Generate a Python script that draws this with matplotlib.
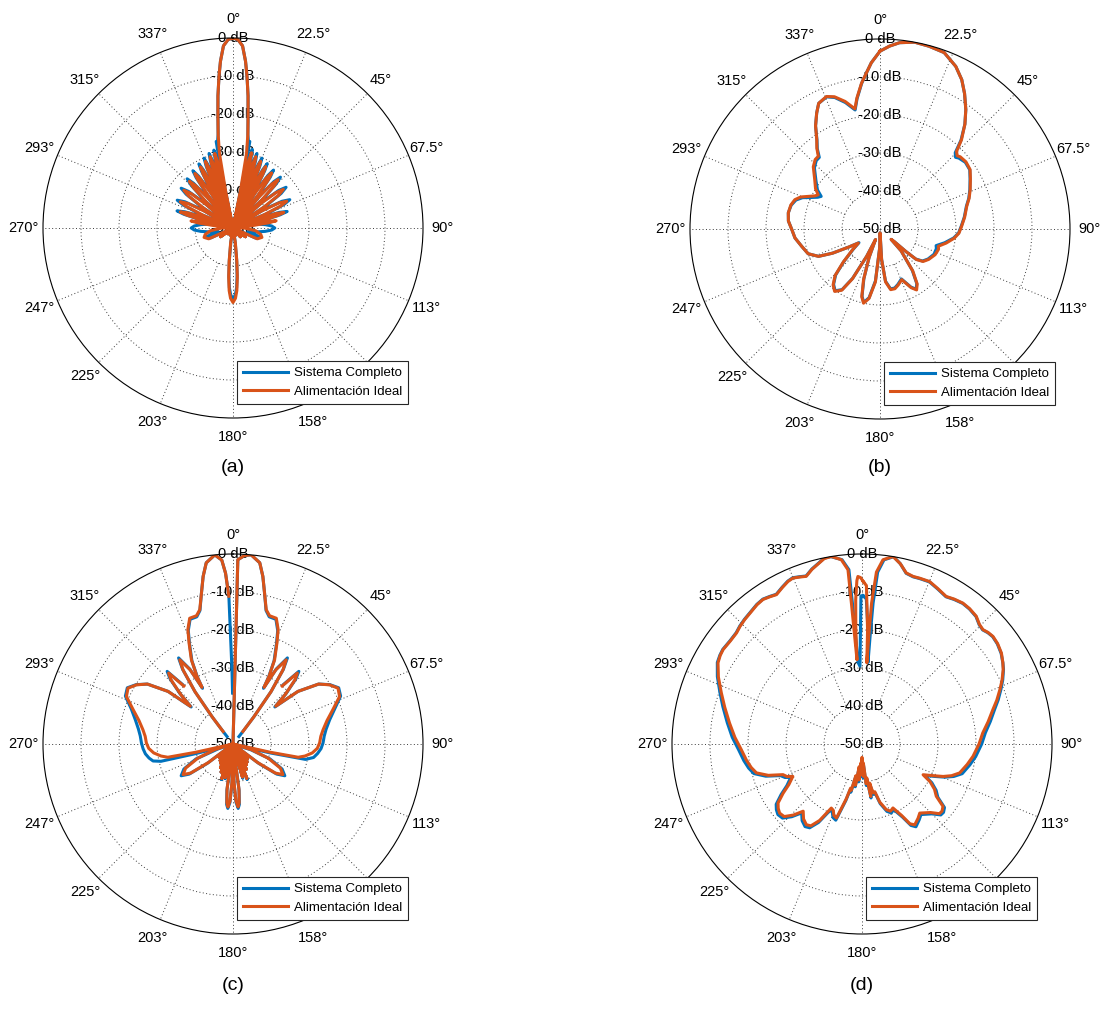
import numpy as np
import matplotlib
matplotlib.use("Agg")
import matplotlib.pyplot as plt

plt.rcParams['font.family'] = ['Liberation Sans', 'DejaVu Sans']

BLUE = '#0072BD'
ORANGE = '#D95319'
NAN = np.nan

SERIES_LABELS = ['Sistema Completo', 'Alimentación Ideal']
THETA_TICKS = [0, 22.5, 45, 67.5, 90, 112.5, 135, 157.5, 180, 202.5, 225, 247.5, 270, 292.5, 315, 337.5]
THETA_LABELS = ['0°', '22.5°', '45°', '67.5°', '90°', '113°', '135°', '158°', '180°',
                '203°', '225°', '247°', '270°', '293°', '315°', '337°']
R_TICKS = [0, -10, -20, -30, -40, -50]
R_LABELS = ['0 dB', '-10 dB', '-20 dB', '-30 dB', '-40 dB', '-50 dB']
PANEL_TAGS = ['(a)', '(b)', '(c)', '(d)']

# ---------------- (a) ----------------
a_ideal_ang = [0, 1.5, 3, 4.3, 5.3, 6.5, 7.6, 9, 10.3, 11.3, 11.8,
               12.4, 13.1, 13.8, 14.4, 15.1, 15.6,
               16.3, 17.0, 17.8, 18.6, 19.3, 20,
               20.8, 21.6, 22.5, 23.4, 24.2, 25,
               25.9, 27, 28, 29, 30.1, 31,
               32.2, 33.6, 35, 36.2, 37.4, 38.5,
               39.8, 41.4, 43, 44.4, 45.8, 47,
               48.6, 50.6, 52.5, 54.3, 56, 57.5,
               59.3, 61.4, 63.5, 65.3, 67, 68.5,
               69.8, 71.4, 73, 74.4, 75.8, 77,
               78, 79.3, 80.5, 81.7, 83, 84,
               90, 97, 103, 108, 114, 118, 125, 132, 140, 150, 160, 168,
               171, 173.5, 175, 176.5, 178, 180, 182, 183.5, 185, 186.5, 189, 192,
               200, 210, 220, 228, 235, 242, 246, 252, 257, 263, 270, 276,
               277, 278.3, 279.5, 280.7, 282, 283,
               284.2, 285.6, 287, 288.6, 290.2, 291.5,
               293, 294.8, 296.5, 298.6, 300.7, 302.5,
               304, 305.8, 307.5, 309.4, 311.3, 313,
               314.2, 315.6, 317, 318.6, 320.2, 321.5,
               322.5, 323.8, 325, 326.4, 327.8, 329,
               329.9, 331, 332, 333, 334.1, 335,
               335.8, 336.6, 337.5, 338.4, 339.2, 340,
               340.7, 341.4, 342.2, 343, 343.7, 344.4,
               345, 345.6, 346.2, 346.9, 347.6, 348.2,
               348.7, 349.7, 351, 352.4, 353.5, 354.7, 355.7, 357, 358.5, 360]
a_ideal_db = [0, -0.4, -2, -6, -10, -15, -20, -25, -30, -40, -50,
              -36.6, -31.6, -29.6, -31.6, -36.6, -50,
              -37.3, -32.3, -30.3, -32.3, -37.3, -50,
              -38, -33, -31, -33, -38, -50,
              -38.7, -33.7, -31.7, -33.7, -38.7, -50,
              -39.3, -34.3, -32.3, -34.3, -39.3, -50,
              -39.6, -34.6, -32.6, -34.6, -39.6, -50,
              -40.3, -35.3, -33.3, -35.3, -40.3, -50,
              -41.2, -36.2, -34.2, -36.2, -41.2, -50,
              -43, -38, -36, -38, -43, -50,
              -45, -40.5, -38.5, -40.5, -45, -50,
              -47, -44, -42.5, -42, -43, -50, -46, -50, -47, -50, -48, -50,
              -46, -41, -37, -33.5, -31.5, -30.4, -31.5, -33.5, -37, -41, -46, -50,
              -48, -50, -48, -50, -46, -50, -43, -42, -42.5, -44, -47, -50,
              -45.3, -40.8, -38.8, -40.8, -45.3, -50,
              -42.5, -37.5, -35.5, -37.5, -42.5, -50,
              -41.5, -36.5, -34.5, -36.5, -41.5, -50,
              -40.7, -35.7, -33.7, -35.7, -40.7, -50,
              -40.2, -35.2, -33.2, -35.2, -40.2, -50,
              -39.5, -34.5, -32.5, -34.5, -39.5, -50,
              -38.8, -33.8, -31.8, -33.8, -38.8, -50,
              -38, -33, -31, -33, -38, -50,
              -37.3, -32.3, -30.3, -32.3, -37.3, -50,
              -36.8, -31.8, -29.8, -31.8, -36.8, -50,
              -40, -30, -25, -20, -15, -10, -6, -2, -0.4, 0]

a_comp_ang = [0, 1.5, 3, 4.3, 5.3, 6.5, 7.6, 9, 10.2, 11, 11.5, 11.9,
              12.4, 13.1, 13.8, 14.4, 15.1, 15.6,
              16.3, 17.0, 17.8, 18.6, 19.3, 20,
              20.8, 21.6, 22.5, 23.4, 24.2, 25,
              25.9, 27, 28, 29, 30.1, 31,
              32.2, 33.6, 35, 36.2, 37.4, 38.5,
              39.8, 41.4, 43, 44.4, 45.8, 47,
              48.6, 50.6, 52.5, 54.3, 56, 57.5,
              59.3, 61.4, 63.5, 65.3, 67, 68.5,
              69.8, 71.4, 73, 74.4, 75.8, 77,
              80, 84, 87, 90, 93, 96, 100, 104, 108, 114, 118, 125, 132, 140, 150, 160, 168,
              171, 173.5, 175, 176.5, 178, 180, 182, 183.5, 185, 186.5, 189, 192,
              200, 210, 220, 228, 235, 242, 246, 252, 256, 260, 264, 267, 270, 273, 276, 280, 283,
              284.2, 285.6, 287, 288.6, 290.2, 291.5,
              293, 294.8, 296.5, 298.6, 300.7, 302.5,
              304, 305.8, 307.5, 309.4, 311.3, 313,
              314.2, 315.6, 317, 318.6, 320.2, 321.5,
              322.5, 323.8, 325, 326.4, 327.8, 329,
              329.9, 331, 332, 333, 334.1, 335,
              335.8, 336.6, 337.5, 338.4, 339.2, 340,
              340.7, 341.4, 342.2, 343, 343.7, 344.4,
              345, 345.6, 346.2, 346.9, 347.6, 348.1,
              348.5, 349, 349.8, 351, 352.4, 353.5, 354.7, 355.7, 357, 358.5, 360]
a_comp_db = [0, -0.4, -2, -6, -10, -15, -20, -25, -27, -26.8, -32, -50,
             -35.7, -30.7, -28.7, -30.7, -35.7, -50,
             -36.4, -31.4, -29.4, -31.4, -36.4, -50,
             -37.1, -32.1, -30.1, -32.1, -37.1, -50,
             -37.8, -32.8, -30.8, -32.8, -37.8, -50,
             -38.4, -33.4, -31.4, -33.4, -38.4, -50,
             -38.7, -33.7, -31.7, -33.7, -38.7, -50,
             -39.4, -34.4, -32.4, -34.4, -39.4, -50,
             -40.3, -35.3, -33.3, -35.3, -40.3, -50,
             -42.1, -37.1, -35.1, -37.1, -42.1, -50,
             -44, -41.5, -39.8, -39, -39.8, -41.5, -44, -46, -42.5, -43.5, -50, -46, -50, -47, -50, -48, -50,
             -46.5, -41.5, -37.5, -34.3, -32.4, -31.4, -32.4, -34.3, -37.5, -41.5, -46.5, -50,
             -48, -50, -48, -50, -46, -50, -43.5, -42.5, -46, -44, -41.5, -39.8, -39, -39.8, -41.5, -44, -50,
             -41.6, -36.6, -34.6, -36.6, -41.6, -50,
             -40.6, -35.6, -33.6, -35.6, -40.6, -50,
             -39.8, -34.8, -32.8, -34.8, -39.8, -50,
             -39.3, -34.3, -32.3, -34.3, -39.3, -50,
             -38.6, -33.6, -31.6, -33.6, -38.6, -50,
             -37.9, -32.9, -30.9, -32.9, -37.9, -50,
             -37.1, -32.1, -30.1, -32.1, -37.1, -50,
             -36.4, -31.4, -29.4, -31.4, -36.4, -50,
             -35.9, -30.9, -28.9, -30.9, -35.9, -50,
             -32, -26.8, -27, -25, -20, -15, -10, -6, -2, -0.4, 0]

# ---------------- (b) ----------------
b_ideal_ang = [0, 3, 6, 10.5, 15, 20, 25, 28.7, 32, 35.7, 39, 42.4, 44.6, 46.5, 48, 52, 56.6,
               61, 66.4, 71, 75.3, 82, 88, 93, 97, 102, 106.5, 109, 115, 122, 127, 130, 131, 131.5,
               133, 136, 142, 146, 149, 152, 156.8, 162, 166, 170, 174, 177, 179,
               181, 185, 189, 192.5, 195, 198, 201, 203,
               206, 209, 212, 216, 220, 224, 228, 233, 237,
               240, 243, 246, 251, 257.5, 264, 269.6, 275, 280, 285, 289, 292, 294.5, 297, 299,
               302, 307, 313, 317, 319.7, 322, 324.7, 328, 331.4, 334, 338, 341, 344.7, 348.2,
               350, 352.8, 355, 357, 360]
b_ideal_db = [-3.2, -1.8, -0.7, 0, -0.2, -0.6, -2.8, -5.2, -8, -11.3, -14.5, -18.2, -21.3, -22, -21.6, -21.3, -21.6,
              -22.8, -24.1, -25.2, -26.4, -27.5, -28.5, -29.2, -30.3, -32.2, -34, -33.7, -34, -34.9, -35.8, -37.5, -41, -45,
              -46, -42, -36, -32.5, -31.3, -32.5, -35.5, -34.5, -33.8, -33.8, -36, -42, -49,
              -45, -36, -31.5, -30, -31.5, -36, -42, -47,
              -42, -35, -31, -29.7, -30.8, -33, -37, -41, -43.2,
              -40.5, -36, -32.3, -30, -28.9, -27.5, -26.8, -25.8, -25.5, -25.7, -26.3, -27.5, -29.3, -30.8, -31.4,
              -30, -28.5, -26, -25, -24.9, -23, -21.2, -18, -15.2, -13.2, -12.4, -13.2, -15.2, -17.7,
              -15, -11.3, -8.8, -6.2, -3.2]

b_comp_ang = list(b_ideal_ang)
b_comp_db = [-3.2, -1.8, -0.7, 0, -0.2, -0.6, -2.8, -5.2, -8, -11.3, -14.5, -18.4, -21.8, -22.6, -22.1, -21.5, -21.7,
             -22.9, -24.2, -25.3, -26.5, -27.6, -28.6, -29.3, -30.5, -32.6, -34.6, -34.3, -34.3, -35.1, -36, -37.7, -41, -45,
             -46, -42, -36.2, -32.7, -31.5, -32.7, -35.7, -34.7, -34, -34, -36.2, -42, -49,
             -45, -36.3, -31.7, -30.2, -31.7, -36.3, -42, -47,
             -42, -35.2, -31.2, -29.9, -31, -33.2, -37.2, -41.2, -43.4,
             -40.5, -36, -32.3, -30, -28.9, -27.5, -26.8, -25.8, -25.5, -25.8, -26.6, -28, -30, -31.6, -32.3,
             -30.6, -28.9, -26.4, -25.4, -25.3, -23.2, -21.3, -18, -15.2, -13.2, -12.5, -13.4, -15.5, -18,
             -15.2, -11.4, -8.8, -6.2, -3.2]

# ---------------- (c) ----------------
c_ideal_ang = [0, 1.5, 3.5, 5.5, 8.4, 10.1, 11.8, 13.9, 15.9, 19, 21.5, 23.5, 26.3, 28, 28.7,
               30, 32.3, 34, 36, 37.5, 38.3, NAN, 40.3, 42.2, 44, 46.5, 48.5,
               51, 55, 58.5, 62, 66, 71, 76, 81, 85, 89.3, 93, 96.4, 99.5, 101.5, 102.5, 103.5,
               107, 112, 117, 121.5, 124.5, 127, 129.5,
               132, 134.5, 137, 139.5, 142, 144.5, 147, 149.5, 152, 154.5, 158, 161, 164, 167,
               170, 172.5, 174, 175.4, 177, 178.5, 180, 181.5, 183, 184.6, 186, 187.5, 190,
               193, 196, 198, 200.5, 203, 205.5, 208, 210.5, 213, 215.5, 218, 220.5, 223, 225.5, 228, 230.5,
               233, 235.5, 238.5, 243, 248, 253, 256.5,
               257.5, 258.5, 260.5, 263.6, 267, 270.7, 275, 279, 284, 289, 294, 298, 301.5, 305,
               309, 311.5, 313.5, 316, 317.8, 319.7, NAN, 321.7, 322.5, 324, 326, 327.7, 330, 331.3,
               332, 333.7, 336.5, 338.5, 341, 344.1, 346.1, 348.2, 349.9, 351.6, 354.5, 356.5, 357.5, 358.4]
c_ideal_db = [-50, -1.5, -0.3, 0, -1.8, -5.2, -9.4, -13.6, -14.9, -15, -17.6, -21, -25.3, -29.7, -33,
              -27.5, -23.8, -26.5, -33, -41, -45.8, NAN, -30, -24.8, -26.5, -31, -35,
              -28, -22.5, -20.2, -18.7, -19.3, -22.2, -24.5, -26, -26.8, -27.2, -27.8, -29, -30.8, -32.5, -40, -50,
              -45, -40, -36, -34.6, -36.5, -42, -50,
              -45, -50, -44.5, -50, -44, -50, -43.5, -50, -42.5, -50, -40.3, -50, -41, -50,
              -50, -38, -34.5, -33.4, -35, -40, -50, -40, -35, -33.4, -34.5, -38, -50,
              -41, -50, -40.5, -50, -42, -50, -43, -50, -44, -50, -44.5, -50, -45, -50, -45, -50,
              -42, -36.5, -34.6, -36, -40, -45, -50,
              -40, -32.5, -30.8, -29, -27.8, -27.2, -26.8, -26, -24.5, -22.2, -19.3, -18.7, -20.2, -22.5,
              -28, -35, -31, -26.5, -24.8, -30, NAN, -45.8, -41, -33, -26.5, -23.8, -27.5, -33,
              -29.7, -25.3, -21, -17.6, -15, -14.9, -13.6, -9.4, -5.2, -1.8, 0, -1.5, -5, -11.1]

c_comp_ang = [0, 1.5, 3.5, 5.5, 8.4, 10.1, 11.8, 13.9, 15.9, 19, 21.5, 23.5, 26.3, 28, 28.7,
              30, 32.3, 34, 36, 37.5, 38.3, 38.6, NAN, 40.3, 42.2, 44, 46.5, 48.5,
              51, 55, 58.5, 62, 66, 71, 76, 81, 85, 89.3, 93, 96.4, 99.5, 102, 103.5, 104.5, 105.5,
              108, 112, 117, 121.5, 124.5, 127, 129.5,
              132, 134.5, 137, 139.5, 142, 144.5, 147, 149.5, 152, 154.5, 158, 161, 164, 167,
              170, 172.5, 174, 175.4, 177, 178.5, 180, 181.5, 183, 184.6, 186, 187.5, 190,
              193, 196, 198, 200.5, 203, 205.5, 208, 210.5, 213, 215.5, 218, 220.5, 223, 225.5, 228, 230.5,
              233, 235.5, 238.5, 243, 248, 252, 254.5,
              255.5, 256.5, 258, 260.5, 263.6, 267, 270.7, 275, 279, 284, 289, 294, 298, 301.5, 305,
              309, 311.5, 313.5, 316, 317.8, 319.7, NAN, 321.4, 321.7, 322.5, 324, 326, 327.7, 330, 331.3,
              332, 333.7, 336.5, 338.5, 341, 344.1, 346.1, 348.2, 349.9, 351.6, 354.5, 356.5, 357.5, 358.4,
              359.2, 359.5]
c_comp_db = [-50, -1.5, -0.3, 0, -1.8, -5.2, -9.4, -13.8, -15.2, -15.3, -17.9, -21.3, -25.6, -30, -33.3,
             -27.2, -23.2, -26.3, -33, -41, -45.8, -47.5, NAN, -29.5, -24.2, -26.2, -30.8, -35.3,
             -28, -22.5, -20.1, -18.5, -19, -21.7, -23.8, -25.2, -25.9, -26.3, -26.8, -27.6, -28.5, -30.5, -40, -46, -50,
             -45, -39.5, -35.5, -34, -36, -41.5, -50,
             -45, -50, -44.5, -50, -44, -50, -43.5, -50, -42.5, -50, -40, -50, -40.7, -50,
             -50, -37.7, -34, -33, -34.6, -39.6, -50, -39.6, -34.6, -33, -34, -37.7, -50,
             -40.7, -50, -40.2, -50, -42, -50, -43, -50, -44, -50, -44.5, -50, -45, -50, -45, -50,
             -41.5, -36, -34, -35.5, -39.5, -46, -50,
             -40, -30.5, -28.5, -27.6, -26.8, -26.3, -25.9, -25.5, -24.8, -23.5, -21.7, -19, -18.5, -20.1, -22.5,
             -28, -35.3, -30.8, -26.2, -24.2, -29.5, NAN, -47.5, -45.8, -41, -33, -26.3, -23.2, -27.2, -33.3,
             -30, -25.6, -21.3, -17.9, -15.3, -15.2, -13.8, -9.4, -5.2, -1.8, 0, -1.5, -5, -11.1,
             -30.4, -36.6]

# ---------------- (d) ----------------
d_ideal_ang = [0.5, 1.6, 2.8, 3.4, 3.6, 3.9, 4.8, 6.5, 9.4, 12, 14.5, 17, 19.2, 22.6, 26, 29.7, 32.5,
               35.6, 38.5, 41.8, 44.5, 46.6, 48.5, 50.6, 53.5, 56.9, 60, 62.2, 65.5, 68.5, 72, 75.3,
               80, 84.8, 90, 96.3, 101, 106.5, 109.5, 111.8, 114, 116.7, 119, 122, 125.1, 127.6, 130,
               132, 135, 140.1, 143, 146.9, 149, 151, 154.2, 157, 159.7, 163, 165, 167.3, 168.9,
               170.5, 172, 174, 176, 178, 180, 182, 183.5, 185, 187, 189, 191, 193, 194.5, 196,
               199, 201.5, 203.5, 205.6, 209, 212, 214.6, 218, 221.2, 224, 227, 230, 232.5, 234.9,
               238, 241, 244.9, 246.5, 248.8, 251.5, 254.7, 258, 262, 267.3, 273, 279, 285, 290, 295,
               299.4, 302, 304.2, 308, 311.5, 314, 316.7, 320, 323, 325.6, 328, 330.2, 333, 335.5,
               337.4, 339.5, 341.6, 344, 346.8, 348.5, 350.7, 353.6, 355.4, 355.7, 356.1, 356.6,
               356.9, 357.5, 358.2, 358.6, 359.5, 360.5]
d_ideal_db = [-7.3, -8.3, -20, -28.6, -21, -12.8, -4.6, -1.2, 0, -1.5, -3.5, -3.9, -3.8, -3.7, -4.5, -5.3, -4.8,
              -4.4, -4.5, -4.9, -5.9, -6.2, -5.7, -5.4, -5.6, -6.2, -7.2, -8, -9.5, -11, -12.7, -14.4,
              -16.3, -18.1, -19.2, -20.6, -21.8, -23.2, -25, -27, -29.5, -32, -29.5, -27.5, -26.1, -23.1, -22.5,
              -22.6, -24.5, -26.3, -25.5, -24.6, -25.5, -28.5, -31.3, -30.8, -31.6, -34, -37, -36.8, -39.5,
              -36, -41, -39.5, -45, -41.5, -46.5, -42, -45, -40.5, -44, -39, -41.5, -37.5, -38, -35,
              -29.4, -29.8, -31, -31.3, -27, -24.6, -24.2, -25, -26.5, -24, -22, -21.7, -22.2, -23,
              -25.5, -28, -29.9, -28.5, -27.7, -24, -21.2, -20.2, -19.3, -18.2, -16.5, -14.7, -12.6, -10.6, -8.3,
              -6.5, -6, -5.8, -6, -5.9, -5.4, -5, -4.6, -4.1, -3.9, -4.3, -4.7, -3.8, -3,
              -2.7, -3.1, -3.5, -2.2, -1, -0.2, 0, -1.2, -4, -12.8, -21.6, -27.8,
              -20, -12, -7, -5.9, -6.2, -7.3]

d_comp_ang = [0.4, 1.7, 3, 4.2, 4.3, 4.5, 5.2, 6.8, 9.6, 12, 14.5, 17, 19.2, 22.6, 26, 29.7, 32.5,
              35.6, 38.5, 41.8, 44.5, 46.6, 48.5, 50.6, 53.5, 56.9, 60, 62.2, 65.5, 68.5, 72, 75.3,
              80, 84.8, 90, 96.3, 101, 106.5, 109.5, 111.8, 114, 116.7, 119, 122, 125.1, 127.6, 130,
              132, 135, 140.1, 143, 146.9, 149, 151, 154.2, 157, 159.7, 163, 165, 167.3, 168.9,
              170.5, 172, 174, 176, 178, 180, 182, 183.5, 185, 187, 189, 191, 193, 194.5, 196,
              199, 201.5, 203.5, 205.6, 209, 212, 214.6, 218, 221.2, 224, 227, 230, 232.5, 234.9,
              238, 241, 244.9, 246.5, 248.8, 251.5, 254.7, 258, 262, 267.3, 273, 279, 285, 290, 295,
              299.4, 302, 304.2, 308, 311.5, 314, 316.7, 320, 323, 325.6, 328, 330.2, 333, 335.5,
              337.4, 339.5, 341.6, 344, 346.8, 348.5, 350.5, 353.8, 355.7, 356.1, 356.6, 357.2,
              358.5, 359.6, 360.4]
d_comp_db = [-11, -11.8, -20, -28.5, -21, -12.8, -4.6, -1.2, 0, -1.5, -3.6, -4, -3.9, -3.8, -4.6, -5.4, -4.9,
             -4.5, -4.6, -5, -6, -6.3, -5.8, -5.5, -5.7, -6.3, -7.2, -7.9, -9.3, -10.7, -12.3, -13.9,
             -15.7, -17.4, -18.5, -19.9, -21.1, -22.5, -24.4, -26.5, -29, -31.6, -29, -27, -25.6, -22.6, -22,
             -22.1, -24, -25.8, -25, -24, -25, -28, -30.8, -30.3, -31.1, -33.6, -36.6, -36.4, -39,
             -35.6, -40.6, -39, -44.5, -41, -45.8, -41.5, -44.5, -40, -43.5, -38.6, -41, -37, -37.5, -34.5,
             -28.8, -29.2, -30.4, -30.7, -26.4, -24, -23.6, -24.4, -25.9, -23.4, -21.4, -21.1, -21.6, -22.4,
             -24.9, -27.4, -29.3, -27.9, -27, -23.3, -20.5, -19.5, -18.6, -17.5, -15.8, -14.1, -12.1, -10.2, -8,
             -6.3, -5.9, -5.7, -5.9, -5.8, -5.3, -4.9, -4.5, -4, -3.8, -4.2, -4.6, -3.7, -2.9,
             -2.6, -3, -3.4, -2.1, -0.9, -0.1, 0, -1.2, -4, -12.8, -21.6, -28.5,
             -29.5, -11, -11]

PANELS = [
    (a_comp_ang, a_comp_db, a_ideal_ang, a_ideal_db),
    (b_comp_ang, b_comp_db, b_ideal_ang, b_ideal_db),
    (c_comp_ang, c_comp_db, c_ideal_ang, c_ideal_db),
    (d_comp_ang, d_comp_db, d_ideal_ang, d_ideal_db),
]

# layout (figure pixels): polar centres and radius
W, H = 1103, 1032
CENTRES = [(233, 228), (880, 229), (233, 744), (862, 744)]
RAD = 190
TAG_POS = [(233, 467), (880, 467), (233, 985), (862, 985)]

fig = plt.figure(figsize=(W / 100, H / 100), dpi=100)

GRID_KW = dict(color='#3a3a3a', linestyle=(0, (1, 2.5)), linewidth=0.7)

for (cx, cy), tag, tpos, (ca, cd, ia, idb) in zip(CENTRES, PANEL_TAGS, TAG_POS, PANELS):
    ax = fig.add_axes([(cx - RAD) / W, 1 - (cy + RAD) / H, 2 * RAD / W, 2 * RAD / H],
                      projection='polar')
    ax.set_theta_zero_location('N')
    ax.set_theta_direction(-1)
    ax.set_rlim(-50, 0)

    # theta labels, no theta grid (spokes drawn below)
    ax.set_thetagrids(THETA_TICKS, THETA_LABELS, fontsize=10.5)
    ax.xaxis.grid(False)
    ax.tick_params(axis='x', pad=7, length=0)

    # radial rings
    ax.set_yticks([-40, -30, -20, -10])
    ax.set_yticklabels([])
    ax.yaxis.grid(True, **GRID_KW)
    ax.tick_params(axis='y', length=0)

    # spokes: cardinal ones reach the centre, the rest start at the inner ring
    for t in THETA_TICKS:
        r0 = -50 if t % 90 == 0 else -40
        ax.plot([np.deg2rad(t)] * 2, [r0, 0], zorder=0.5, **GRID_KW)

    for r, lab in zip(R_TICKS, R_LABELS):
        ax.text(0, r, lab, ha='center', va='center', fontsize=10.5, zorder=1, clip_on=False)

    ax.spines['polar'].set_linewidth(0.8)
    ax.spines['polar'].set_color('black')

    ax.plot(np.deg2rad(np.array(ca, dtype=float)), np.array(cd, dtype=float),
            color=BLUE, lw=2.2, zorder=2, label=SERIES_LABELS[0])
    ax.plot(np.deg2rad(np.array(ia, dtype=float)), np.array(idb, dtype=float),
            color=ORANGE, lw=2.2, zorder=2.1, label=SERIES_LABELS[1])
    ax.set_rlim(-50, 0)

    leg = ax.legend(loc='lower right', bbox_to_anchor=(0.961, 0.037), fontsize=9.5,
                    handlelength=3.4, handletextpad=0.45, borderpad=0.45, labelspacing=0.5,
                    borderaxespad=0, fancybox=False, framealpha=1, edgecolor='#262626')
    leg.get_frame().set_linewidth(0.8)
    leg.set_zorder(10)

    fig.text(tpos[0] / W, 1 - tpos[1] / H, tag, ha='center', va='center', fontsize=14)

fig.savefig('out.png', dpi=100)
